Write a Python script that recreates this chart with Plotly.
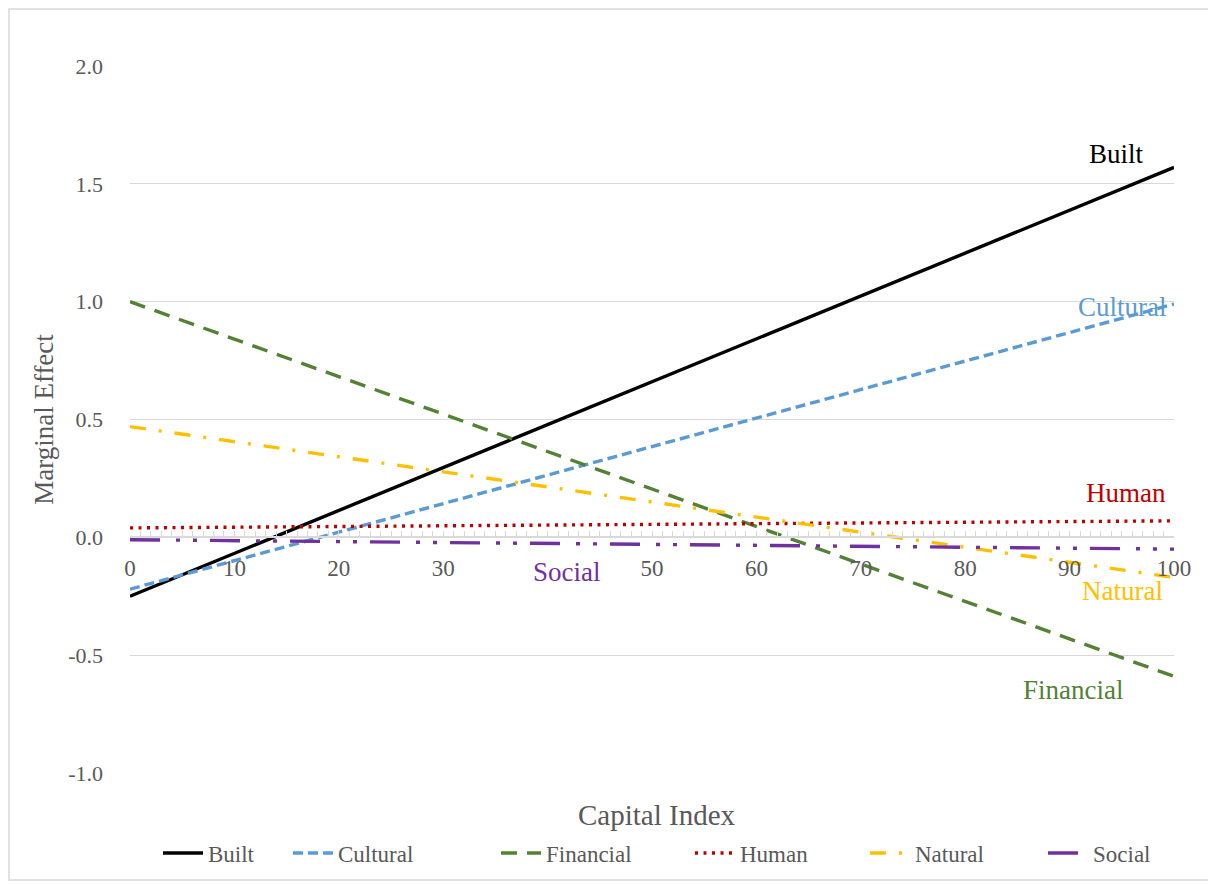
import plotly.graph_objects as go

capital = [0, 100]
built = [-0.25, 1.57]
cultural = [-0.22, 0.99]
financial = [1.00, -0.59]
human = [0.04, 0.07]
natural = [0.47, -0.17]
social = [-0.01, -0.05]

x_ticks = [0, 10, 20, 30, 40, 50, 60, 70, 80, 90, 100]
x_ticktext = ["0", "10", "20", "30", "", "50", "60", "70", "80", "90", "100"]
y_ticks = [-1.0, -0.5, 0.0, 0.5, 1.0, 1.5, 2.0]
y_ticktext = ["-1.0", "-0.5", "0.0", "0.5", "1.0", "1.5", "2.0"]

series = [
    ("Built", built, "#000000", "solid"),
    ("Cultural", cultural, "#5B9BD5", "10px,5px"),
    ("Financial", financial, "#548235", "16px,10px"),
    ("Human", human, "#C00000", "3px,5.5px"),
    ("Natural", natural, "#FFC000", "16px,13px,3px,13px"),
    ("Social", social, "#7030A0", "30px,16px,4px,13px,4px,13px"),
]
legend_px = [158, 288, 496, 690, 865, 1043]

FONT = "Liberation Serif"
GRAY = "#595959"

fig = go.Figure()
legend_layouts = {}
for i, (name, vals, color, dash) in enumerate(series):
    lname = "legend" if i == 0 else f"legend{i+1}"
    fig.add_trace(go.Scatter(x=capital, y=vals, mode="lines", name=name, legend=lname,
                             line=dict(color=color, dash=dash, width=3.4)))
    legend_layouts[lname] = dict(x=(legend_px[i] - 130) / 1044, xanchor="left",
                                 y=-0.1132, yanchor="middle", itemwidth=40,
                                 orientation="h", bgcolor="rgba(0,0,0,0)",
                                 font=dict(family=FONT, size=23, color=GRAY))

labels = [
    ("Built", 94.5, 1.625, "#000000"),
    ("Cultural", 95.1, 0.979, "#5B9BD5"),
    ("Human", 95.4, 0.187, "#C00000"),
    ("Social", 41.9, -0.145, "#7030A0"),
    ("Natural", 95.1, -0.226, "#FFC000"),
    ("Financial", 90.3, -0.647, "#548235"),
]
for t, x, y, c in labels:
    fig.add_annotation(x=x, y=y, text=t, showarrow=False, xanchor="center", yanchor="middle",
                       font=dict(family=FONT, size=27, color=c))

fig.add_annotation(xref="paper", yref="paper", x=0.505, y=-0.0594, text="Capital Index",
                   showarrow=False, xanchor="center", yanchor="middle",
                   font=dict(family=FONT, size=29, color=GRAY))

# outer border
fig.add_shape(type="rect", xref="paper", yref="paper",
              x0=(9 - 130) / 1044, x1=(1211 - 130) / 1044,
              y0=(773 - 880) / 707, y1=(773 - 9) / 707,
              line=dict(color="#d9d9d9", width=1.5))

fig.update_layout(
    width=1216, height=884,
    margin=dict(l=122, r=50, t=58, b=119),
    paper_bgcolor="white", plot_bgcolor="white",
    font=dict(family=FONT, color=GRAY),
    showlegend=True,
    xaxis=dict(range=[0, 100], anchor="free", position=1/3,
               tickvals=x_ticks, ticktext=x_ticktext,
               showgrid=False, zeroline=False,
               showline=True, linecolor="#d9d9d9", linewidth=1.5,
               ticks="inside", ticklen=6, tickcolor="#d9d9d9", tickwidth=1,
               minor=dict(dtick=1, ticks="inside", ticklen=6, tickcolor="#d9d9d9", tickwidth=1),
               tickfont=dict(family=FONT, size=23, color=GRAY),
               ticklabelstandoff=10),
    yaxis=dict(range=[-1, 2], tickvals=y_ticks, ticktext=y_ticktext,
               showgrid=True, gridcolor="#d9d9d9", gridwidth=1,
               zeroline=False, showline=False, ticks="",
               tickfont=dict(family=FONT, size=22, color=GRAY),
               ticklabelstandoff=26,
               title=dict(text="Marginal Effect", standoff=6,
                          font=dict(family=FONT, size=27, color=GRAY))),
    **legend_layouts,
)

fig.write_html("out.html")
